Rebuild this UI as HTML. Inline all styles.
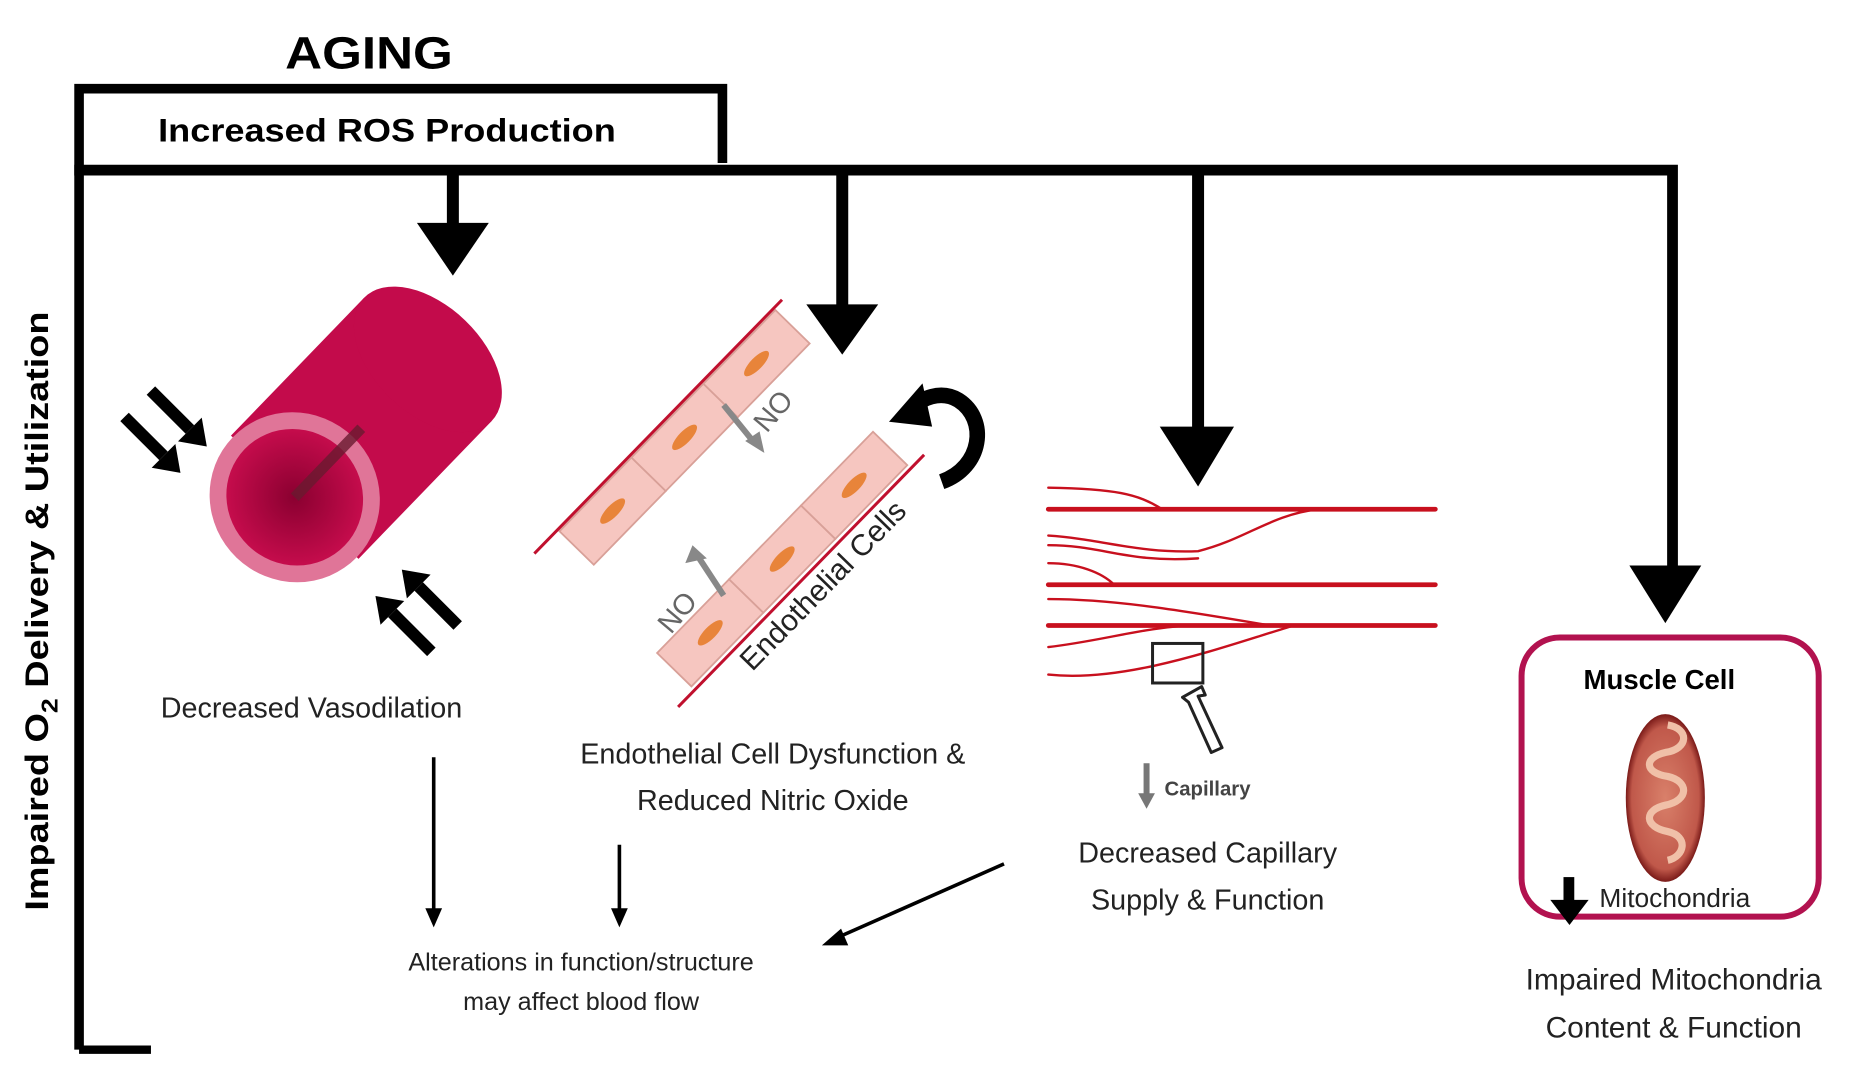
<!DOCTYPE html>
<html><head><meta charset="utf-8"><style>
html,body{margin:0;padding:0;background:#fff;}
svg{display:block;}
text{font-family:"Liberation Sans",sans-serif;}
</style></head><body>
<svg width="1869" height="1076" viewBox="0 0 1560 898" preserveAspectRatio="none" xmlns="http://www.w3.org/2000/svg">
<defs>
<radialGradient id="lum" cx="0.5" cy="0.5" r="0.5"><stop offset="0" stop-color="#8a0030"/><stop offset="1" stop-color="#c50c4c"/></radialGradient>
<radialGradient id="mito" cx="0.5" cy="0.5" r="0.5"><stop offset="0" stop-color="#d9806a"/><stop offset="0.85" stop-color="#c0584a"/><stop offset="1" stop-color="#7a1a18"/></radialGradient>
</defs>
<text x="308" y="57" font-size="38" text-anchor="middle" font-weight="bold" textLength="140" lengthAdjust="spacingAndGlyphs">AGING</text>
<path d="M66 876 V74 H603 V136" fill="none" stroke="#000" stroke-width="8"/>
<path d="M62 142 H1396 V480" fill="none" stroke="#000" stroke-width="9"/>
<line x1="66" y1="876" x2="126" y2="876" stroke="#000" stroke-width="7"/>
<text x="323" y="118" font-size="27" text-anchor="middle" font-weight="bold" textLength="382" lengthAdjust="spacingAndGlyphs">Increased ROS Production</text>
<text transform="translate(40,510) rotate(-90)" font-size="27" font-weight="bold" text-anchor="middle" textLength="500" lengthAdjust="spacingAndGlyphs">Impaired O<tspan font-size="19" dy="8">2</tspan><tspan dy="-8"> Delivery &amp; Utilization</tspan></text>
<line x1="378" y1="142" x2="378" y2="190" stroke="#000" stroke-width="10"/>
<polygon points="348,186 408,186 378,230" fill="#000"/>
<line x1="703" y1="142" x2="703" y2="258" stroke="#000" stroke-width="10"/>
<polygon points="673,254 733,254 703,296" fill="#000"/>
<line x1="1000" y1="142" x2="1000" y2="360" stroke="#000" stroke-width="10"/>
<polygon points="968,356 1030,356 1000,406" fill="#000"/>
<polygon points="1360,472 1420,472 1390,520" fill="#000"/>
<g transform="translate(246,415) rotate(-46)">
<rect x="0" y="-74" width="160" height="148" fill="#c30b4b"/>
<ellipse cx="160" cy="0" rx="45" ry="74" fill="#c30b4b"/>
<ellipse cx="0" cy="0" rx="70" ry="72" fill="#e07598"/>
<ellipse cx="0" cy="0" rx="56" ry="58" fill="url(#lum)"/>
<line x1="0" y1="0" x2="80" y2="0" stroke="#6a1a30" stroke-width="9" opacity="0.8"/>
</g>
<g fill="#000">
<g transform="translate(128,372) rotate(45)"><rect x="-34" y="-5" width="46" height="10"/><polygon points="12,-14 32,0 12,14"/></g>
<g transform="translate(150,350) rotate(45)"><rect x="-34" y="-5" width="46" height="10"/><polygon points="12,-14 32,0 12,14"/></g>
<g transform="translate(336,520) rotate(-135)"><rect x="-34" y="-5" width="46" height="10"/><polygon points="12,-14 32,0 12,14"/></g>
<g transform="translate(358,498) rotate(-135)"><rect x="-34" y="-5" width="46" height="10"/><polygon points="12,-14 32,0 12,14"/></g>
</g>
<g transform="translate(446,462) rotate(-45.7)">
<rect x="28" y="2" width="86" height="40" fill="#f6c6c0" stroke="#d8a098" stroke-width="1.5"/>
<rect x="114" y="2" width="86" height="40" fill="#f6c6c0" stroke="#d8a098" stroke-width="1.5"/>
<rect x="200" y="2" width="86" height="40" fill="#f6c6c0" stroke="#d8a098" stroke-width="1.5"/>
<ellipse cx="71" cy="22" rx="14" ry="5" fill="#e8843a"/>
<ellipse cx="157" cy="22" rx="14" ry="5" fill="#e8843a"/>
<ellipse cx="243" cy="22" rx="14" ry="5" fill="#e8843a"/>
<line x1="0" y1="0" x2="296" y2="0" stroke="#c0102e" stroke-width="2.5"/>
</g>
<g transform="translate(566,590) rotate(-45.7)">
<rect x="20" y="-44" width="86" height="40" fill="#f6c6c0" stroke="#d8a098" stroke-width="1.5"/>
<rect x="106" y="-44" width="86" height="40" fill="#f6c6c0" stroke="#d8a098" stroke-width="1.5"/>
<rect x="192" y="-44" width="86" height="40" fill="#f6c6c0" stroke="#d8a098" stroke-width="1.5"/>
<ellipse cx="63" cy="-24" rx="14" ry="5" fill="#e8843a"/>
<ellipse cx="149" cy="-24" rx="14" ry="5" fill="#e8843a"/>
<ellipse cx="235" cy="-24" rx="14" ry="5" fill="#e8843a"/>
<line x1="0" y1="0" x2="294" y2="0" stroke="#c0102e" stroke-width="2.5"/>
<text x="64" y="24" font-size="25" fill="#222">Endothelial Cells</text>
</g>
<line x1="604" y1="338" x2="630" y2="370" stroke="#888" stroke-width="5"/>
<polygon points="622,368 638,378 634,360" fill="#888"/>
<text transform="translate(640,362) rotate(-50)" font-size="24" fill="#666">NO</text>
<line x1="604" y1="497" x2="583" y2="465" stroke="#888" stroke-width="5"/>
<polygon points="572,470 578,455 590,466" fill="#888"/>
<text transform="translate(560,530) rotate(-50)" font-size="24" fill="#666">NO</text>
<path d="M786 402 C820 390 825 350 800 334 C785 325 768 333 762 340" fill="none" stroke="#000" stroke-width="13"/>
<polygon points="742,352 770,320 778,356" fill="#000"/>
<g fill="none" stroke="#c8101e" stroke-linecap="round">
<path d="M875 425 H1198" stroke-width="4"/>
<path d="M875 488 H1198" stroke-width="4"/>
<path d="M875 522 H1198" stroke-width="4"/>
<path d="M875 407 C930 408 950 412 970 425" stroke-width="2"/>
<path d="M875 447 C920 450 950 462 1000 460 C1040 450 1060 430 1100 425" stroke-width="2"/>
<path d="M875 455 C920 455 940 470 1000 466" stroke-width="2"/>
<path d="M875 470 C900 470 920 478 930 488" stroke-width="2"/>
<path d="M875 500 C930 500 990 510 1060 522" stroke-width="2"/>
<path d="M875 540 C920 535 960 522 1000 522" stroke-width="2"/>
<path d="M875 563 C940 570 1020 540 1080 522" stroke-width="2"/>
</g>
<rect x="962" y="537" width="42" height="33" fill="none" stroke="#222" stroke-width="2.5"/>
<path d="M1003 573 L987 582 L992 586 L1011 628 L1020 624 L1000 581 L1006 580 Z" fill="#fff" stroke="#222" stroke-width="2.5" stroke-linejoin="round"/>
<line x1="957" y1="637" x2="957" y2="665" stroke="#777" stroke-width="5"/>
<polygon points="950,662 964,662 957,675" fill="#777"/>
<text x="972" y="664" font-size="17" font-weight="bold" fill="#444">Capillary</text>
<rect x="1270" y="532" width="248" height="233" rx="32" fill="#fff" stroke="#b2124f" stroke-width="5"/>
<text x="1385" y="575" font-size="23" font-weight="bold" text-anchor="middle">Muscle Cell</text>
<ellipse cx="1390" cy="666" rx="33" ry="70" fill="url(#mito)"/>
<path d="M1392 605 C1410 608 1410 625 1390 628 C1372 632 1372 645 1392 648 C1410 652 1410 668 1390 672 C1372 676 1372 690 1392 694 C1410 698 1406 715 1392 718" fill="none" stroke="#f0c0a8" stroke-width="6"/>
<rect x="1305" y="732" width="9" height="22" fill="#000"/>
<polygon points="1294,751 1326,751 1310,772" fill="#000"/>
<text x="1335" y="757" font-size="22" fill="#222">Mitochondria</text>
<text x="1397" y="826" font-size="25" text-anchor="middle" fill="#222">Impaired Mitochondria</text>
<text x="1397" y="866" font-size="25" text-anchor="middle" fill="#222">Content &amp; Function</text>
<text x="260" y="599" font-size="24" text-anchor="middle" fill="#222">Decreased Vasodilation</text>
<text x="645" y="637" font-size="24" text-anchor="middle" fill="#222">Endothelial Cell Dysfunction &amp;</text>
<text x="645" y="676" font-size="24" text-anchor="middle" fill="#222">Reduced Nitric Oxide</text>
<text x="1008" y="720" font-size="24" text-anchor="middle" fill="#222">Decreased Capillary</text>
<text x="1008" y="759" font-size="24" text-anchor="middle" fill="#222">Supply &amp; Function</text>
<text x="485" y="810" font-size="21" text-anchor="middle" fill="#222">Alterations in function/structure</text>
<text x="485" y="843" font-size="21" text-anchor="middle" fill="#222">may affect blood flow</text>
<line x1="362" y1="632" x2="362" y2="760" stroke="#000" stroke-width="3"/>
<polygon points="355,758 369,758 362,774" fill="#000"/>
<line x1="517" y1="705" x2="517" y2="760" stroke="#000" stroke-width="3"/>
<polygon points="510,758 524,758 517,774" fill="#000"/>
<line x1="838" y1="721" x2="700" y2="782" stroke="#000" stroke-width="3"/>
<polygon points="686,789 702,775 708,789" fill="#000"/>
</svg>
</body></html>
